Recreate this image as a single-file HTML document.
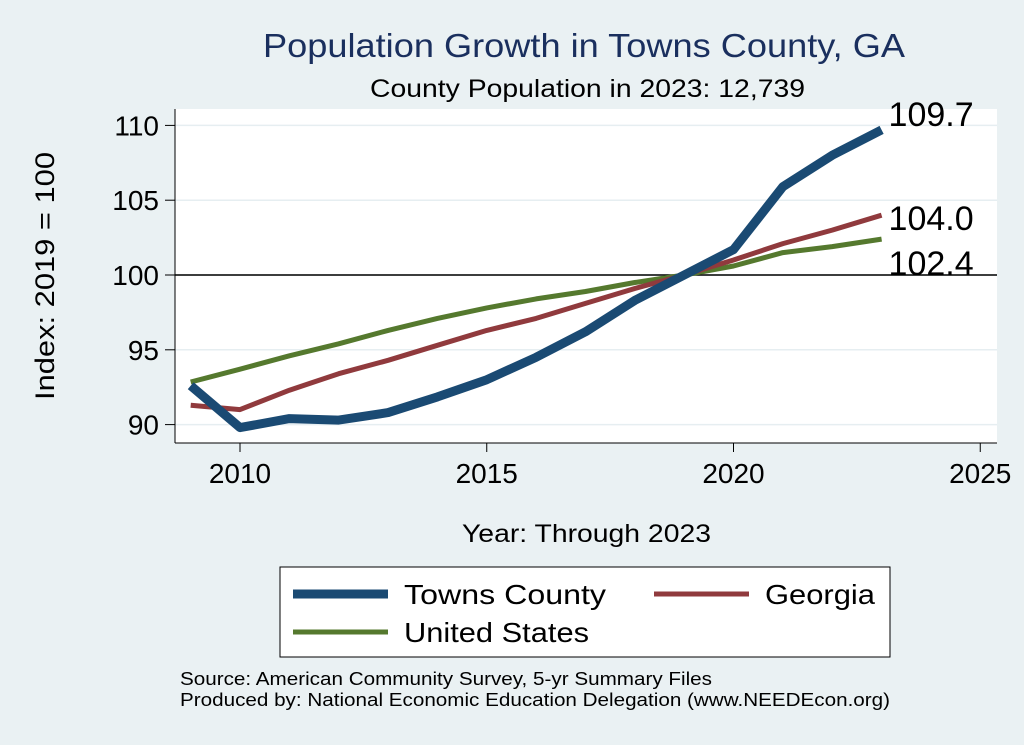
<!DOCTYPE html>
<html><head><meta charset="utf-8"><style>
body{margin:0;background:#eaf1f3;}
svg{display:block;font-family:"Liberation Sans",sans-serif;}
</style></head><body>
<svg id="c" width="1024" height="745">
<rect x="0" y="0" width="1024" height="745" fill="#eaf1f3"/>
<text x="263" y="57" font-size="33" fill="#1a2f5e" textLength="642" lengthAdjust="spacingAndGlyphs">Population Growth in Towns County, GA</text>
<text x="370" y="97" font-size="25" fill="#000" textLength="435" lengthAdjust="spacingAndGlyphs">County Population in 2023: 12,739</text>
<rect x="175" y="109" width="822" height="334" fill="#fff"/>
<g id="grid"></g><g id="axes"></g><g id="series"></g>
<text x="0" y="0" font-size="27" text-anchor="middle" textLength="248" lengthAdjust="spacingAndGlyphs" transform="translate(54 276) rotate(-90)">Index: 2019 = 100</text>
<text x="462" y="542" font-size="25" textLength="249" lengthAdjust="spacingAndGlyphs">Year: Through 2023</text>
<g>
<rect x="280" y="567" width="610" height="90" fill="#fff" stroke="#000" stroke-width="1"/>
<line x1="293" y1="594" x2="388" y2="594" stroke="#1a4a73" stroke-width="9"/>
<text x="404" y="604" font-size="28" textLength="202" lengthAdjust="spacingAndGlyphs">Towns  County</text>
<line x1="654" y1="594" x2="749" y2="594" stroke="#903a3d" stroke-width="5"/>
<text x="765" y="604" font-size="28" textLength="110" lengthAdjust="spacingAndGlyphs">Georgia</text>
<line x1="293" y1="632" x2="388" y2="632" stroke="#55792e" stroke-width="5"/>
<text x="404" y="642" font-size="28" textLength="185" lengthAdjust="spacingAndGlyphs">United States</text>
</g>
<text x="180" y="685" font-size="18" textLength="532" lengthAdjust="spacingAndGlyphs">Source: American Community Survey, 5-yr Summary Files</text>
<text x="180" y="706" font-size="18" textLength="710" lengthAdjust="spacingAndGlyphs">Produced by: National Economic Education Delegation (www.NEEDEcon.org)</text>
</svg>
<script>
const years=[2009,2010,2011,2012,2013,2014,2015,2016,2017,2018,2019,2020,2021,2022,2023];
const towns=[92.6,89.8,90.4,90.3,90.8,91.85,93.0,94.5,96.2,98.3,100,101.7,105.9,108.0,109.7];
const georgia=[91.3,91.0,92.3,93.4,94.3,95.3,96.3,97.1,98.1,99.1,100,101.0,102.1,103.0,104.0];
const usa=[92.85,93.7,94.6,95.4,96.3,97.1,97.8,98.4,98.9,99.5,100,100.6,101.5,101.9,102.4];
const yTicks=[90,95,100,105,110];
const xTicks=[2010,2015,2020,2025];
const NS="http://www.w3.org/2000/svg";
const X=v=>240+(v-2010)*49.35;
const Y=v=>275-(v-100)*14.96;
function mk(p,t,a){const e=document.createElementNS(NS,t);for(const k in a)e.setAttribute(k,a[k]);p.appendChild(e);return e;}
const grid=document.getElementById('grid'),axes=document.getElementById('axes'),ser=document.getElementById('series');
yTicks.forEach(v=>{
 const g=mk(grid,'line',{x1:175,x2:997,y1:Y(v),y2:Y(v),stroke:'#e6eef1','stroke-width':1.5});
 
 
 const t=mk(axes,'line',{x1:165,x2:175,y1:Y(v),y2:Y(v),stroke:'#000'});
 
 
 const l=mk(axes,'text',{x:159,y:Y(v)+10,'font-size':28,'text-anchor':'end'});l.textContent=v;
 
 
});
const ya=mk(axes,'line',{x1:175,x2:175,y1:109,y2:443,stroke:'#000'});


const xa=mk(axes,'line',{x1:175,x2:997,y1:443,y2:443,stroke:'#000'});


const ref=mk(axes,'line',{x1:175,x2:997,y1:Y(100),y2:Y(100),stroke:'#000','stroke-width':1.5});


xTicks.forEach(v=>{
 const t=mk(axes,'line',{x1:X(v),x2:X(v),y1:443,y2:452,stroke:'#000'});
 
 
 const l=mk(axes,'text',{x:X(v),y:483,'font-size':28,'text-anchor':'middle'});l.textContent=v;
 
 
});
function line(vals,color,w,name,dy){
 const d=vals.map((v,i)=>(i?'L':'M')+X(years[i]).toFixed(1)+','+Y(v).toFixed(1)).join('');
 const p=mk(ser,'path',{d:d,fill:'none',stroke:color,'stroke-width':w,'stroke-linejoin':'round'});
 
 
 const last=vals[vals.length-1];
 const l=mk(ser,'text',{x:X(years[years.length-1])+7,y:Y(last)+dy,'font-size':34});l.textContent=last.toFixed(1);
 
 
}
line(usa,'#55792e',5,'united-states',36);
line(georgia,'#903a3d',5,'georgia',15);
line(towns,'#1a4a73',9,'towns-county',-4);
</script>
</body></html>
